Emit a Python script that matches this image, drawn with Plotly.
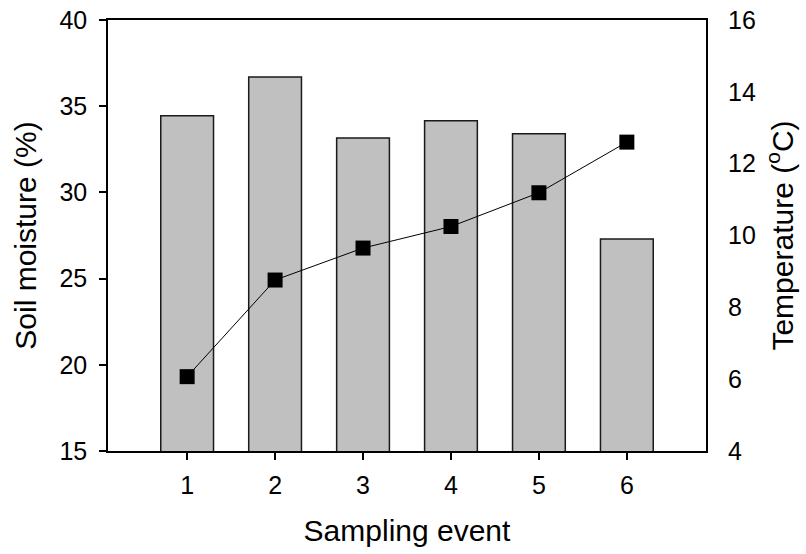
import plotly.graph_objects as go

events = [1, 2, 3, 4, 5, 6]
tick_labels = ["1", "2", "3", "4", "5", "6"]
soil_moisture = [34.45, 36.7, 33.15, 34.15, 33.4, 27.3]
temperature = [6.07, 8.76, 9.65, 10.25, 11.19, 12.6]

FONT = "Liberation Sans, Arial, sans-serif"

fig = go.Figure()
fig.add_trace(go.Bar(
    x=events, y=soil_moisture,
    width=0.6,
    marker=dict(color="#c0c0c0", line=dict(color="#1a1a1a", width=1.5)),
    yaxis="y", showlegend=False,
))
fig.add_trace(go.Scatter(
    x=events, y=temperature, mode="lines+markers",
    line=dict(color="black", width=1),
    marker=dict(symbol="square", size=15, color="black"),
    yaxis="y2", showlegend=False,
))

fig.update_layout(
    width=806, height=554,
    margin=dict(l=108, r=100, t=20, b=103),
    paper_bgcolor="white", plot_bgcolor="white",
    font=dict(family=FONT, color="black", size=25),
    xaxis=dict(
        range=[0.1, 6.9], tickvals=events, ticktext=tick_labels,
        ticks="outside", ticklen=7, tickwidth=1.5, tickcolor="black",
        showline=True, linecolor="black", linewidth=1.5, mirror=True,
        showgrid=False, zeroline=False, automargin=False,
        ticklabelstandoff=4, ticklabeloverflow="allow",
        tickfont=dict(size=25),
        title=dict(text="Sampling event", font=dict(size=30), standoff=22),
    ),
    yaxis=dict(
        range=[15, 40], tickvals=[15, 20, 25, 30, 35, 40],
        ticks="outside", ticklen=7, tickwidth=1.5, tickcolor="black",
        showline=True, linecolor="black", linewidth=1.5,
        showgrid=False, zeroline=False, automargin=False,
        ticklabelstandoff=7, ticklabeloverflow="allow",
        tickfont=dict(size=25),
        title=dict(text="Soil moisture (%)", font=dict(size=30), standoff=14),
    ),
    yaxis2=dict(
        range=[4, 16], tickvals=[4, 6, 8, 10, 12, 14, 16],
        overlaying="y", side="right",
        ticks="", showline=True, linecolor="black", linewidth=2,
        showgrid=False, zeroline=False, automargin=False,
        ticklabelstandoff=15, ticklabeloverflow="allow",
        tickfont=dict(size=25),
        title=dict(text="Temperature (<sup>o</sup>C)", font=dict(size=30), standoff=17),
    ),
)

fig.write_html(
    "out.html",
    config={"displayModeBar": False},
    post_script="document.body.style.margin='0';document.body.style.overflow='hidden';",
)
